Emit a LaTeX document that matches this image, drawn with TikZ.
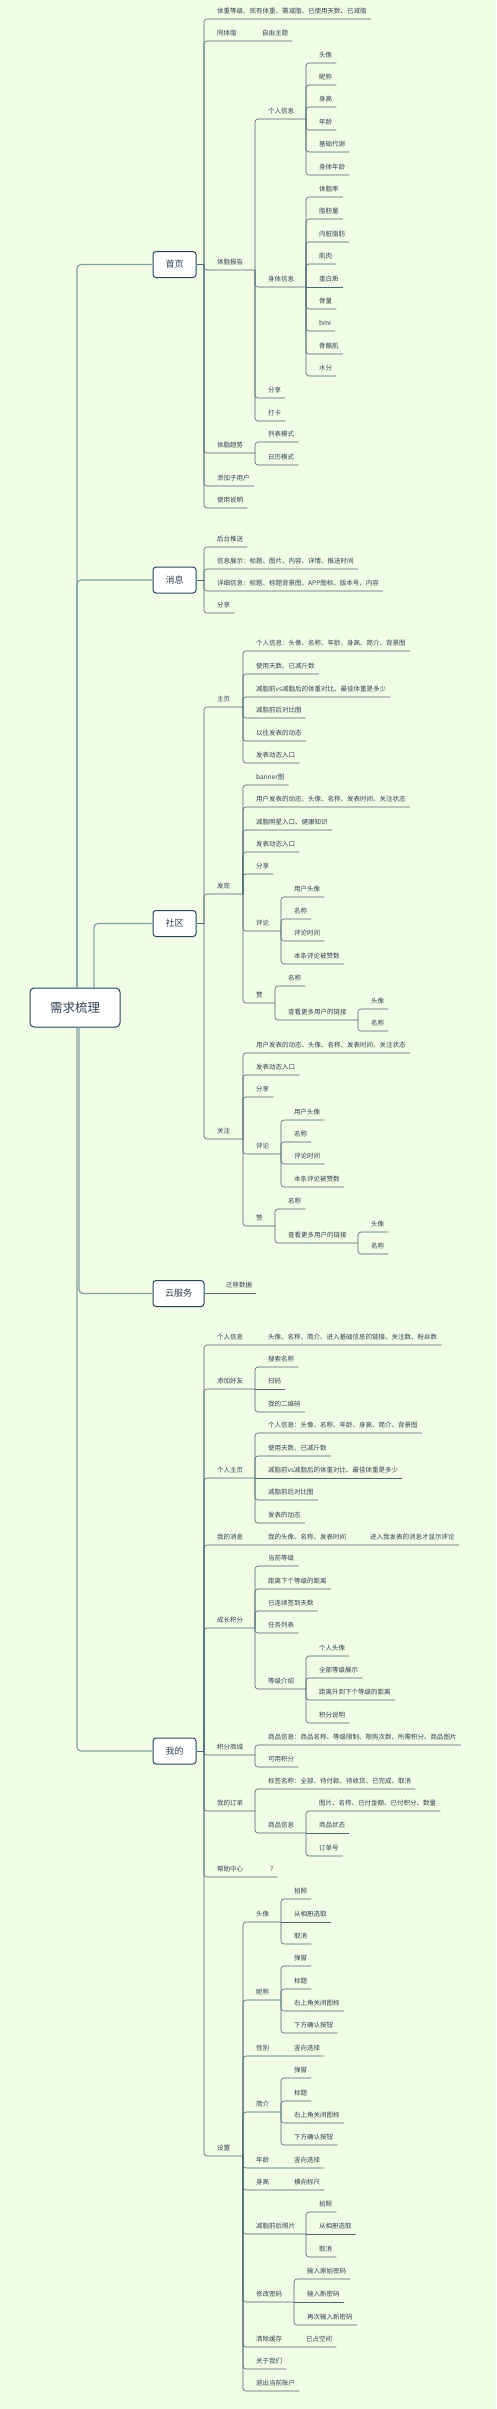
\documentclass[tikz,border=0pt]{standalone}
\usepackage{fontspec}
\setmainfont{Noto Sans CJK SC}
\usepackage{tikz}
\usetikzlibrary{calc}

\definecolor{bgc}{RGB}{241,253,228}
\definecolor{linec}{RGB}{72,102,118}
\definecolor{boxc}{RGB}{38,68,98}
\definecolor{txtc}{RGB}{48,66,84}
\definecolor{trunkc}{RGB}{128,162,168}

\begin{document}
\begin{tikzpicture}[x=1pt, y=-1pt,
    topic/.style={anchor=south west, inner xsep=4pt, inner ysep=4.5pt, text height=5.6pt, text depth=1pt, text=txtc, font=\fontsize{6.5}{7}\selectfont},
    link/.style={draw=linec, line width=0.6pt, rounded corners=3pt},
    trunk/.style={draw=trunkc, line width=1.2pt, rounded corners=4pt},
    mainbox/.style={draw=boxc, line width=1pt, fill=white, rounded corners=3pt, minimum width=43pt, minimum height=26pt, text=txtc, font=\fontsize{9}{10}\selectfont}]

    % Background
    \fill[bgc] (0,0) rectangle (496,2409);
    \useasboundingbox (0,0) rectangle (496,2409);

    % Root node
    \node[mainbox, minimum width=90pt, minimum height=39pt, rounded corners=4pt, font=\fontsize{12.5}{14}\selectfont] (root) at (75,1007.5) {需求梳理};

    % Main branches
    \node[mainbox] (sy) at (174.5,264.5) {首页};
    \node[mainbox] (xx) at (174.5,580) {消息};
    \node[mainbox] (sq) at (174.5,923.5) {社区};
    \node[mainbox, minimum width=51pt] (yfw) at (178.5,1293.5) {云服务};
    \node[mainbox] (wd) at (174.5,1751) {我的};
    \foreach \m/\dx in {sy/2pt, xx/2pt, sq/19pt}
        \draw[trunk] ([xshift=\dx]root.north) |- (\m.west);
    \foreach \m/\dx in {yfw/4pt, wd/2pt}
        \draw[trunk] ([xshift=\dx]root.south) |- (\m.west);

    % 首页
    \coordinate (sy-b) at (204,264.5);
    \draw[link] (sy.east) -- (sy-b);
    \node[topic] (sy1) at (213,19) {体重等级、现有体重、需减脂、已使用天数、已减脂};
    \node[topic] (sy2) at (213,41) {同体脂};
    \node[topic] (sy2a) at (258,41) {自由主题};
    \draw[link] (sy-b) |- (sy1.south east);
    \draw[link] (sy-b) |- (sy2a.south east);
    \foreach \n/\y/\t in {3/270/体脂报告, 4/453/体脂趋势} {
        \node[topic] (sy\n) at (213,\y) {\t};
        \coordinate (sy\n-b) at (255,\y);
        \draw[link] (sy-b) |- (sy\n-b);
    }
    \foreach \n/\y/\t in {5/486/添加子用户, 6/508/使用说明} {
        \node[topic] (sy\n) at (213,\y) {\t};
        \draw[link] (sy-b) |- (sy\n.south east);
    }
    \node[topic] (sy3a) at (264,119) {个人信息};
    \node[topic] (sy3b) at (264,287) {身体信息};
    \coordinate (sy3a-b) at (306,119);
    \coordinate (sy3b-b) at (306,287);
    \draw[link] (sy3-b) |- (sy3a-b);
    \draw[link] (sy3-b) |- (sy3b-b);
    \foreach \n/\y/\t in {c/398/分享, d/421/打卡} {
        \node[topic] (sy3\n) at (264,\y) {\t};
        \draw[link] (sy3-b) |- (sy3\n.south east);
    }
    \foreach \n/\y/\t in {1/63/头像, 2/85/昵称, 3/107/身高, 4/130/年龄, 5/152/基础代谢, 6/175/身体年龄} {
        \node[topic] (sy3a\n) at (315,\y) {\t};
        \draw[link] (sy3a-b) |- (sy3a\n.south east);
    }
    \foreach \n/\y/\t in {1/197/体脂率, 2/219/脂肪量, 3/242/内脏脂肪, 4/264/肌肉, 6/309/骨量, 7/331/bmi, 8/354/骨骼肌, 9/376/水分} {
        \node[topic] (sy3b\n) at (315,\y) {\t};
        \draw[link] (sy3b-b) |- (sy3b\n.south east);
    }
    \node[topic] (sy3b5) at (315,287) {蛋白质};
    \draw[link] (sy3b-b) -- (sy3b5.south east);
    \foreach \n/\y/\t in {1/442/列表模式, 2/465/日历模式} {
        \node[topic] (sy4\n) at (264,\y) {\t};
        \draw[link] (sy4-b) |- (sy4\n.south east);
    }

    % 消息
    \coordinate (xx-b) at (204,580);
    \draw[link] (xx.east) -- (xx-b);
    \foreach \n/\y/\t in {1/547/后台推送, 2/569/信息展示：标题、图片、内容、详情、推送时间, 3/591/详细信息：标题、标题背景图、APP图标、版本号、内容, 4/613/分享} {
        \node[topic] (xx\n) at (213,\y) {\t};
        \draw[link] (xx-b) |- (xx\n.south east);
    }

    % 社区
    \coordinate (sq-b) at (204,923.5);
    \draw[link] (sq.east) -- (sq-b);
    \foreach \m/\y/\t in {sq1/707/主页, sq2/894/发现, sq3/1139/关注} {
        \node[topic] (\m) at (213,\y) {\t};
        \coordinate (\m-b) at (243,\y);
        \draw[link] (sq-b) |- (\m-b);
    }
    \foreach \n/\y/\t in {1/651/个人信息：头像、名称、年龄、身高、简介、背景图, 2/674/使用天数、已减斤数, 3/697/减脂前vs减脂后的体重对比、最佳体重是多少, 4/718/减脂前后对比图, 5/741/以往发表的动态, 6/763/发表动态入口} {
        \node[topic] (sq1\n) at (252,\y) {\t};
        \draw[link] (sq1-b) |- (sq1\n.south east);
    }
    \foreach \n/\y/\t in {1/785/banner图, 2/807/用户发表的动态、头像、名称、发表时间、关注状态, 3/830/减脂明星入口、健康知识, 4/852/发表动态入口, 5/874/分享} {
        \node[topic] (sq2\n) at (252,\y) {\t};
        \draw[link] (sq2-b) |- (sq2\n.south east);
    }
    \foreach \n/\y/\t in {1/1053/用户发表的动态、头像、名称、发表时间、关注状态, 2/1075/发表动态入口, 3/1097/分享} {
        \node[topic] (sq3\n) at (252,\y) {\t};
        \draw[link] (sq3-b) |- (sq3\n.south east);
    }
    \foreach \m/\c/\z in {sq2/931/1003, sq3/1154/1226} {
        % 评论
        \node[topic] (\m-pl) at (252,\c) {评论};
        \coordinate (\m-pl-b) at (281,\c);
        \draw[link] (\m-b) |- (\m-pl-b);
        \foreach \n/\dy/\t in {1/-34/用户头像, 2/-12/名称, 3/10/评论时间, 4/33/本条评论被赞数} {
            \node[topic] (\m-pl\n) at (290,\c+\dy) {\t};
            \draw[link] (\m-pl-b) |- (\m-pl\n.south east);
        }
        % 赞
        \node[topic] (\m-z) at (252,\z) {赞};
        \coordinate (\m-z-b) at (275,\z);
        \draw[link] (\m-b) |- (\m-z-b);
        \node[topic] (\m-z1) at (284,\z-17) {名称};
        \node[topic] (\m-z2) at (284,\z+17) {查看更多用户的链接};
        \coordinate (\m-z2-b) at (358,\z+17);
        \draw[link] (\m-z-b) |- (\m-z1.south east);
        \draw[link] (\m-z-b) |- (\m-z2-b);
        \node[topic] (\m-z3) at (367,\z+6) {头像};
        \node[topic] (\m-z4) at (367,\z+28) {名称};
        \draw[link] (\m-z2-b) |- (\m-z3.south east);
        \draw[link] (\m-z2-b) |- (\m-z4.south east);
    }

    % 云服务
    \node[topic] (yfw1) at (222,1293.5) {迁移数据};
    \draw[link] (yfw.east) -- (yfw1.south east);

    % 我的
    \coordinate (wd-b) at (204,1751);
    \draw[link] (wd.east) -- (wd-b);
    \foreach \n/\y/\t in {1/1345/个人信息, 2/1389/添加好友, 3/1478/个人主页, 4/1545/我的消息, 5/1628/成长积分, 6/1755/积分商城, 7/1811/我的订单, 8/1877/帮助中心} {
        \node[topic] (wd\n) at (213,\y) {\t};
        \coordinate (wd\n-b) at (255,\y);
    }
    \node[topic] (wd9) at (213,2156) {设置};
    \coordinate (wd9-b) at (243,2156);
    \foreach \n in {2,3,5,6,7,9}
        \draw[link] (wd-b) |- (wd\n-b);
    \node[topic] (wd1a) at (264,1345) {头像、名称、简介、进入基础信息的链接、关注数、粉丝数};
    \draw[link] (wd-b) |- (wd1a.south east);
    \node[topic] (wd4a) at (264,1545) {我的头像、名称、发表时间};
    \node[topic] (wd4b) at (366,1545) {进入我发表的消息才显示评论};
    \draw[link] (wd-b) |- (wd4b.south east);
    \node[topic] (wd8a) at (266,1877) {?};
    \draw[link] (wd-b) |- (wd8a.south east);

    % 添加好友 / 个人主页
    \foreach \n/\y/\t in {1/1367/搜索名称, 3/1412/我的二维码} {
        \node[topic] (wd2\n) at (264,\y) {\t};
        \draw[link] (wd2-b) |- (wd2\n.south east);
    }
    \node[topic] (wd22) at (264,1389) {扫码};
    \draw[link] (wd2-b) -- (wd22.south east);
    \foreach \n/\y/\t in {1/1433/个人信息：头像、名称、年龄、身高、简介、背景图, 2/1456/使用天数、已减斤数, 4/1500/减脂前后对比图, 5/1523/发表的动态} {
        \node[topic] (wd3\n) at (264,\y) {\t};
        \draw[link] (wd3-b) |- (wd3\n.south east);
    }
    \node[topic] (wd33) at (264,1478) {减脂前vs减脂后的体重对比、最佳体重是多少};
    \draw[link] (wd3-b) -- (wd33.south east);

    % 成长积分 / 积分商城 / 我的订单
    \foreach \n/\y/\t in {1/1566/当前等级, 2/1589/距离下个等级的距离, 3/1611/已连续签到天数, 4/1633/任务列表} {
        \node[topic] (wd5\n) at (264,\y) {\t};
        \draw[link] (wd5-b) |- (wd5\n.south east);
    }
    \node[topic] (wd5a) at (264,1689) {等级介绍};
    \coordinate (wd5a-b) at (306,1689);
    \draw[link] (wd5-b) |- (wd5a-b);
    \foreach \n/\y/\t in {1/1656/个人头像, 2/1678/全部等级展示, 3/1700/距离升到下个等级的距离, 4/1723/积分说明} {
        \node[topic] (wd5a\n) at (315,\y) {\t};
        \draw[link] (wd5a-b) |- (wd5a\n.south east);
    }
    \foreach \n/\y/\t in {1/1745/商品信息：商品名称、等级限制、限购次数、所需积分、商品图片, 2/1767/可用积分} {
        \node[topic] (wd6\n) at (264,\y) {\t};
        \draw[link] (wd6-b) |- (wd6\n.south east);
    }
    \node[topic] (wd71) at (264,1789) {标签名称：全部、待付款、待收货、已完成、取消};
    \draw[link] (wd7-b) |- (wd71.south east);
    \node[topic] (wd7a) at (264,1833) {商品信息};
    \coordinate (wd7a-b) at (306,1833);
    \draw[link] (wd7-b) |- (wd7a-b);
    \foreach \n/\y/\t in {1/1811/图片、名称、已付金额、已付积分、数量, 3/1856/订单号} {
        \node[topic] (wd7a\n) at (315,\y) {\t};
        \draw[link] (wd7a-b) |- (wd7a\n.south east);
    }
    \node[topic] (wd7a2) at (315,1833) {商品状态};
    \draw[link] (wd7a-b) -- (wd7a2.south east);

    % 设置
    \foreach \n/\y/\t/\x in {a/1922/头像/281, b/2000/昵称/281, d/2112/简介/281, g/2234/减脂前后照片/306, h/2302/修改密码/294} {
        \node[topic] (wd9\n) at (252,\y) {\t};
        \coordinate (wd9\n-b) at (\x,\y);
        \draw[link] (wd9-b) |- (wd9\n-b);
    }
    \foreach \n/\y/\t/\s in {c/2056/性别/竖向选择, e/2168/年龄/竖向选择, f/2190/身高/横向标尺} {
        \node[topic] (wd9\n) at (252,\y) {\t};
        \node[topic] (wd9\n1) at (290,\y) {\s};
        \draw[link] (wd9-b) |- (wd9\n1.south east);
    }
    \node[topic] (wd9i) at (252,2347) {清除缓存};
    \node[topic] (wd9i1) at (302,2347) {已占空间};
    \draw[link] (wd9-b) |- (wd9i1.south east);
    \foreach \n/\y/\t in {j/2369/关于我们, k/2391/退出当前账户} {
        \node[topic] (wd9\n) at (252,\y) {\t};
        \draw[link] (wd9-b) |- (wd9\n.south east);
    }
    \foreach \n/\y/\t in {1/1899/拍照, 3/1944/取消} {
        \node[topic] (wd9a\n) at (290,\y) {\t};
        \draw[link] (wd9a-b) |- (wd9a\n.south east);
    }
    \node[topic] (wd9a2) at (290,1922) {从相册选取};
    \draw[link] (wd9a-b) -- (wd9a2.south east);
    \foreach \m/\c in {wd9b/2000, wd9d/2112} {
        \foreach \n/\dy/\t in {1/-34/弹窗, 2/-11/标题, 3/11/右上角关闭图标, 4/33/下方确认按钮} {
            \node[topic] (\m\n) at (290,\c+\dy) {\t};
            \draw[link] (\m-b) |- (\m\n.south east);
        }
    }
    \foreach \n/\y/\t in {1/2212/拍照, 3/2257/取消} {
        \node[topic] (wd9g\n) at (315,\y) {\t};
        \draw[link] (wd9g-b) |- (wd9g\n.south east);
    }
    \node[topic] (wd9g2) at (315,2234) {从相册选取};
    \draw[link] (wd9g-b) -- (wd9g2.south east);
    \foreach \n/\y/\t in {1/2279/输入原始密码, 3/2325/再次输入新密码} {
        \node[topic] (wd9h\n) at (303,\y) {\t};
        \draw[link] (wd9h-b) |- (wd9h\n.south east);
    }
    \node[topic] (wd9h2) at (303,2302) {输入新密码};
    \draw[link] (wd9h-b) -- (wd9h2.south east);
\end{tikzpicture}
\end{document}
